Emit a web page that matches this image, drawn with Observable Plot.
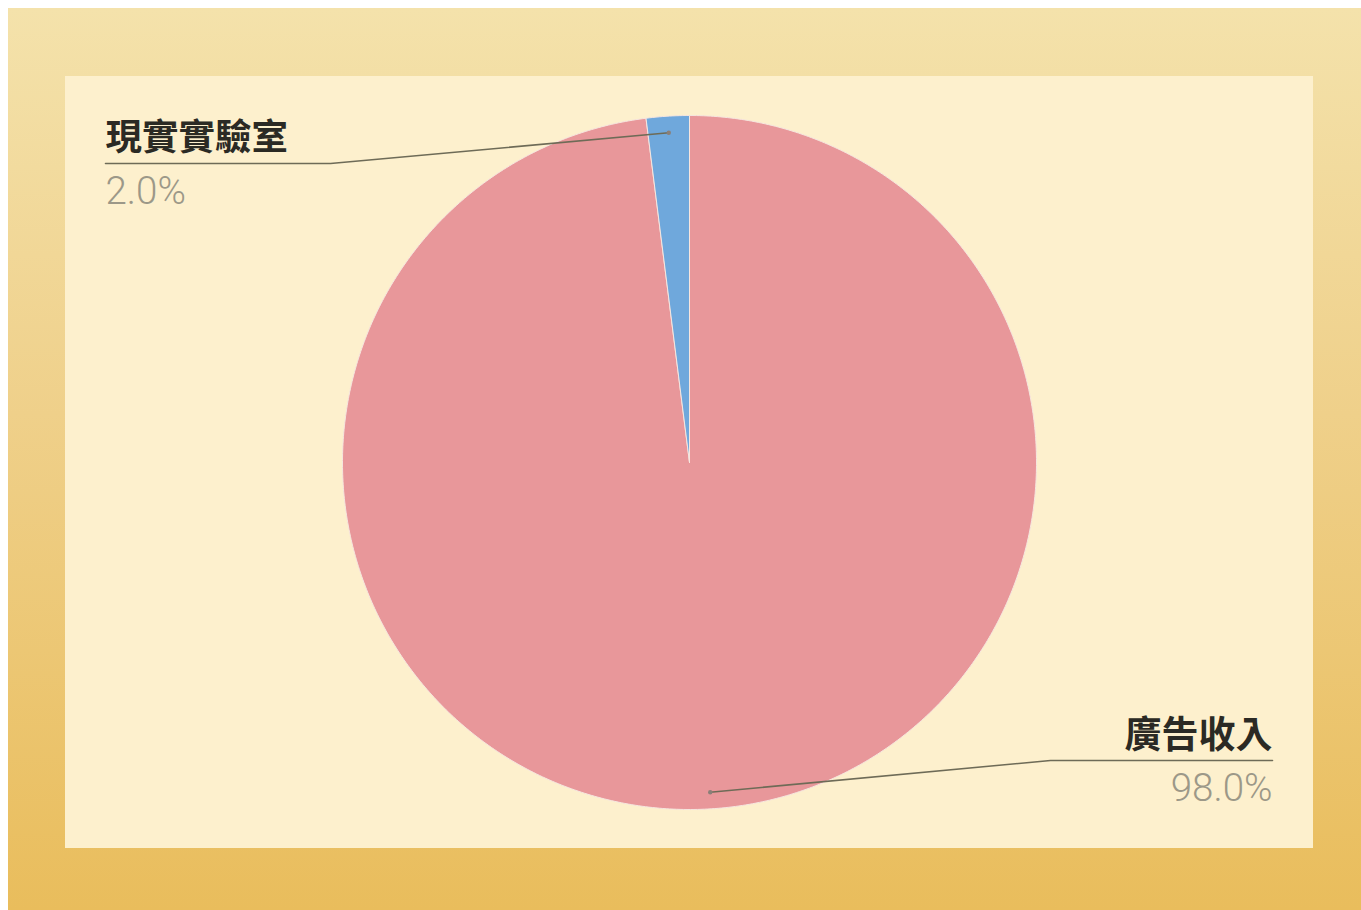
<!DOCTYPE html>
<html>
<head>
<meta charset="utf-8">
<script src="https://cdn.jsdelivr.net/npm/d3@7"></script>
<script src="https://cdn.jsdelivr.net/npm/@observablehq/plot@0.6"></script>
<style>
  html, body { margin: 0; padding: 0; background: #ffffff; }
  #wrap { position: relative; width: 1361px; height: 910px; overflow: hidden; }
  #frame { position: absolute; left: 8px; top: 8px; right: 0; bottom: 0;
    background: linear-gradient(to bottom, #f4e2ab 0%, #efd08a 45%, #e9bd5c 100%); }
  #panel { position: absolute; left: 65px; top: 76px; width: 1248px; height: 772px; background: #fdf0cd; }
  #chart { position: absolute; left: 0; top: 0; }
</style>
</head>
<body>
<div id="wrap">
  <div id="frame"></div>
  <div id="panel"></div>
  <div id="chart"></div>
</div>
<script>
const categories = ["廣告收入", "現實實驗室"];
const values = [98.0, 2.0];
const percentLabels = ["98.0%", "2.0%"];
const colors = ["#e8979a", "#6fa8dc"];

const W = 1361, H = 910;
const cx = 689, cy = 462, R = 347;
const labelLayout = [
  {elbowX: 1050, lineY: 760, endX: 1272, anchor: "end"},
  {elbowX: 330, lineY: 163, endX: 105, anchor: "start"}
];

const arcs = d3.pie().sort(null).value(d => d)(values);

const slicePts = [];
arcs.forEach((a, i) => {
  const n = Math.max(4, Math.ceil((a.endAngle - a.startAngle) / 0.01));
  slicePts.push({cat: categories[i], x: cx, y: cy});
  for (let k = 0; k <= n; k++) {
    const t = a.startAngle + (a.endAngle - a.startAngle) * k / n;
    slicePts.push({cat: categories[i], x: cx + R * Math.sin(t), y: cy - R * Math.cos(t)});
  }
  slicePts.push({cat: categories[i], x: cx, y: cy});
});

const leaderPts = [];
const dots = [];
const labels = [];
arcs.forEach((a, i) => {
  const mid = (a.startAngle + a.endAngle) / 2;
  const px = cx + 0.952 * R * Math.sin(mid), py = cy - 0.952 * R * Math.cos(mid);
  const L = labelLayout[i];
  leaderPts.push({cat: categories[i], x: px, y: py});
  leaderPts.push({cat: categories[i], x: L.elbowX, y: L.lineY});
  leaderPts.push({cat: categories[i], x: L.endX, y: L.lineY});
  dots.push({x: px, y: py});
  labels.push({x: L.endX, y: L.lineY, name: categories[i], pct: percentLabels[i], anchor: L.anchor});
});

const chart = Plot.plot({
  width: W, height: H,
  margin: 0,
  x: {type: "linear", domain: [0, W], range: [0, W], axis: null},
  y: {type: "linear", domain: [0, H], range: [0, H], axis: null},
  style: {background: "transparent"},
  marks: [
    Plot.line(slicePts, {x: "x", y: "y", z: "cat", fill: d => colors[categories.indexOf(d.cat)], stroke: "#f6e6df", strokeWidth: 1, curve: "linear"}),
    Plot.line(leaderPts, {x: "x", y: "y", z: "cat", stroke: "#6e6b57", strokeWidth: 1.6}),
    Plot.dot(dots, {x: "x", y: "y", r: 2.2, fill: "#8a7f78", stroke: null}),
    Plot.text(labels.filter(d => d.anchor === "start"), {x: "x", y: "y", text: "name", textAnchor: "start", dy: -25, fontSize: 36.5, fontWeight: "bold", fill: "#2b2a24", fontFamily: "Noto Sans CJK TC"}),
    Plot.text(labels.filter(d => d.anchor === "end"), {x: "x", y: "y", text: "name", textAnchor: "end", dy: -24, fontSize: 37, fontWeight: "bold", fill: "#2b2a24", fontFamily: "Noto Sans CJK TC"}),
    Plot.text(labels.filter(d => d.anchor === "start"), {x: "x", y: "y", text: "pct", textAnchor: "start", dy: 28, fontSize: 38.5, fill: "#9c9888", fontFamily: "Roboto", fontWeight: 300}),
    Plot.text(labels.filter(d => d.anchor === "end"), {x: "x", y: "y", text: "pct", textAnchor: "end", dy: 28, fontSize: 38.5, fill: "#9c9888", fontFamily: "Roboto", fontWeight: 300})
  ]
});
document.getElementById("chart").appendChild(chart);
</script>
</body>
</html>
